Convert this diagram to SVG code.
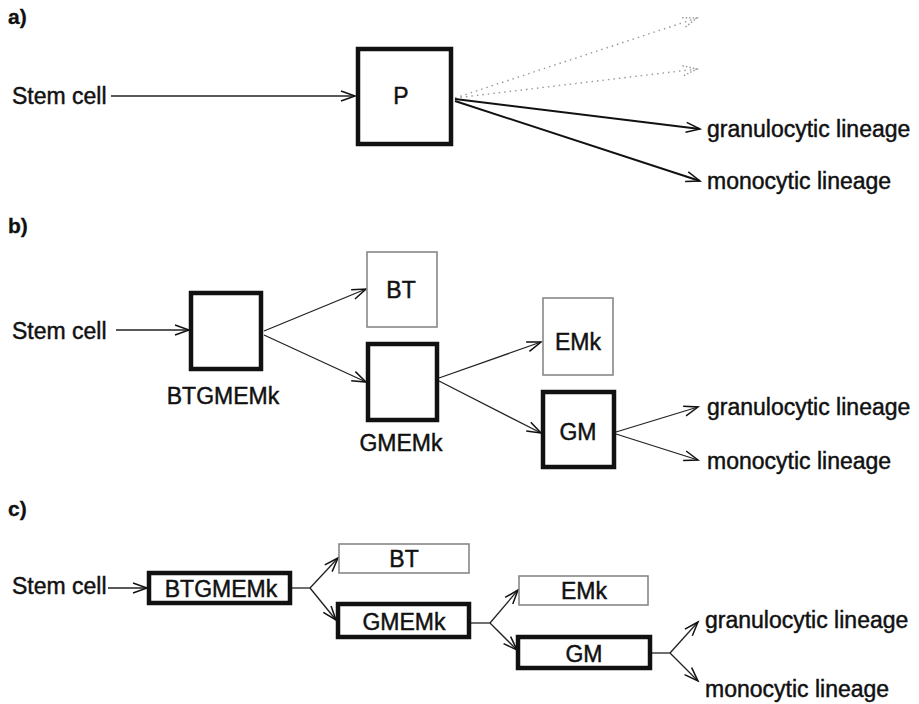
<svg xmlns="http://www.w3.org/2000/svg" width="919" height="704" viewBox="0 0 919 704">
  <style>
    text { font-family: "Liberation Sans", Arial, sans-serif; font-size: 23px; fill: #111; stroke: #111; stroke-width: 0.45; }
    .lbl { font-size: 21px; font-weight: bold; stroke-width: 0.3; }
    .mid { text-anchor: middle; }
    .thick { fill: #fff; stroke: #111; stroke-width: 4.5; }
    .thin { fill: #fff; stroke: #888; stroke-width: 1.6; }
    .ln { fill: none; stroke: #222; stroke-width: 1.3; }
    .ln2 { fill: none; stroke: #111; stroke-width: 2; }
    .dot { fill: none; stroke: #999; stroke-width: 1.4; stroke-dasharray: 1.5 4; }
  </style>
  <defs>
    <marker id="arr" markerWidth="16" markerHeight="12" refX="15" refY="6" orient="auto" markerUnits="userSpaceOnUse" overflow="visible">
      <path d="M1,1 L15,6 L1,11" fill="none" stroke="#111" stroke-width="1.5"/>
    </marker>
    <marker id="arrg" markerWidth="16" markerHeight="12" refX="15" refY="6" orient="auto" markerUnits="userSpaceOnUse" overflow="visible">
      <path d="M1,1 L15,6 L1,11" fill="none" stroke="#999" stroke-width="1.4" stroke-dasharray="1.5 2"/>
    </marker>
  </defs>

  <!-- panel labels -->
  <text class="lbl" x="8" y="24">a)</text>
  <text class="lbl" x="8" y="233">b)</text>
  <text class="lbl" x="8" y="516">c)</text>

  <!-- connectors -->
  <g id="connectors">
    <!-- a -->
    <line class="ln" x1="111" y1="96" x2="355" y2="96" marker-end="url(#arr)"/>
    <line class="dot" x1="455" y1="98" x2="697" y2="18" marker-end="url(#arrg)"/>
    <line class="dot" x1="455" y1="98" x2="697" y2="69" marker-end="url(#arrg)"/>
    <line class="ln2" x1="455" y1="99" x2="700" y2="129" marker-end="url(#arr)"/>
    <line class="ln2" x1="455" y1="101" x2="700" y2="181" marker-end="url(#arr)"/>
    <!-- b -->
    <line class="ln" x1="116" y1="330" x2="189" y2="330" marker-end="url(#arr)"/>
    <line class="ln" x1="264" y1="331" x2="366" y2="289" marker-end="url(#arr)"/>
    <line class="ln" x1="264" y1="335" x2="366" y2="382" marker-end="url(#arr)"/>
    <line class="ln" x1="439" y1="378" x2="541" y2="342" marker-end="url(#arr)"/>
    <line class="ln" x1="439" y1="381" x2="541" y2="433" marker-end="url(#arr)"/>
    <line class="ln" x1="616" y1="432" x2="698" y2="407" marker-end="url(#arr)"/>
    <line class="ln" x1="616" y1="434" x2="698" y2="460" marker-end="url(#arr)"/>
    <!-- c -->
    <line class="ln" x1="108" y1="588" x2="147" y2="588" marker-end="url(#arr)"/>
    <polyline class="ln" points="290,588 310,588"/>
    <line class="ln" x1="310" y1="588" x2="338" y2="558" marker-end="url(#arr)"/>
    <line class="ln" x1="310" y1="588" x2="336" y2="620" marker-end="url(#arr)"/>
    <polyline class="ln" points="469,623 490,623"/>
    <line class="ln" x1="490" y1="623" x2="518" y2="590" marker-end="url(#arr)"/>
    <line class="ln" x1="490" y1="623" x2="517" y2="650" marker-end="url(#arr)"/>
    <polyline class="ln" points="650,653 670,653"/>
    <line class="ln" x1="670" y1="653" x2="698" y2="622" marker-end="url(#arr)"/>
    <line class="ln" x1="670" y1="653" x2="698" y2="681" marker-end="url(#arr)"/>
  </g>

  <!-- panel a nodes -->
  <g id="a-stem"><text x="12" y="104">Stem cell</text></g>
  <g id="a-P">
    <rect class="thick" x="358" y="49" width="93" height="95"/>
    <text class="mid" x="401" y="104">P</text>
  </g>
  <g id="a-gran"><text x="707" y="137">granulocytic lineage</text></g>
  <g id="a-mono"><text x="707" y="189">monocytic lineage</text></g>

  <!-- panel b nodes -->
  <g id="b-stem"><text x="12" y="339">Stem cell</text></g>
  <g id="b-BTGMEMk">
    <rect class="thick" x="191" y="293" width="70" height="76"/>
    <text class="mid" x="223" y="404">BTGMEMk</text>
  </g>
  <g id="b-BT">
    <rect class="thin" x="367" y="252" width="70" height="75"/>
    <text class="mid" x="401" y="298">BT</text>
  </g>
  <g id="b-GMEMk">
    <rect class="thick" x="368" y="344" width="69" height="76"/>
    <text class="mid" x="401" y="451">GMEMk</text>
  </g>
  <g id="b-EMk">
    <rect class="thin" x="543" y="298" width="70" height="77"/>
    <text class="mid" x="578" y="350">EMk</text>
  </g>
  <g id="b-GM">
    <rect class="thick" x="543" y="392" width="71" height="75"/>
    <text class="mid" x="578" y="440">GM</text>
  </g>
  <g id="b-gran"><text x="707" y="415">granulocytic lineage</text></g>
  <g id="b-mono"><text x="707" y="469">monocytic lineage</text></g>

  <!-- panel c nodes -->
  <g id="c-stem"><text x="12" y="594">Stem cell</text></g>
  <g id="c-BTGMEMk">
    <rect class="thick" x="149" y="573" width="141" height="30"/>
    <text class="mid" x="221" y="597">BTGMEMk</text>
  </g>
  <g id="c-BT">
    <rect class="thin" x="339" y="544" width="130" height="29"/>
    <text class="mid" x="404" y="567">BT</text>
  </g>
  <g id="c-GMEMk">
    <rect class="thick" x="338" y="604" width="131" height="33"/>
    <text class="mid" x="404" y="630">GMEMk</text>
  </g>
  <g id="c-EMk">
    <rect class="thin" x="519" y="576" width="129" height="29"/>
    <text class="mid" x="584" y="599">EMk</text>
  </g>
  <g id="c-GM">
    <rect class="thick" x="518" y="637" width="132" height="31"/>
    <text class="mid" x="584" y="662">GM</text>
  </g>
  <g id="c-gran"><text x="705" y="628">granulocytic lineage</text></g>
  <g id="c-mono"><text x="705" y="697">monocytic lineage</text></g>
</svg>
